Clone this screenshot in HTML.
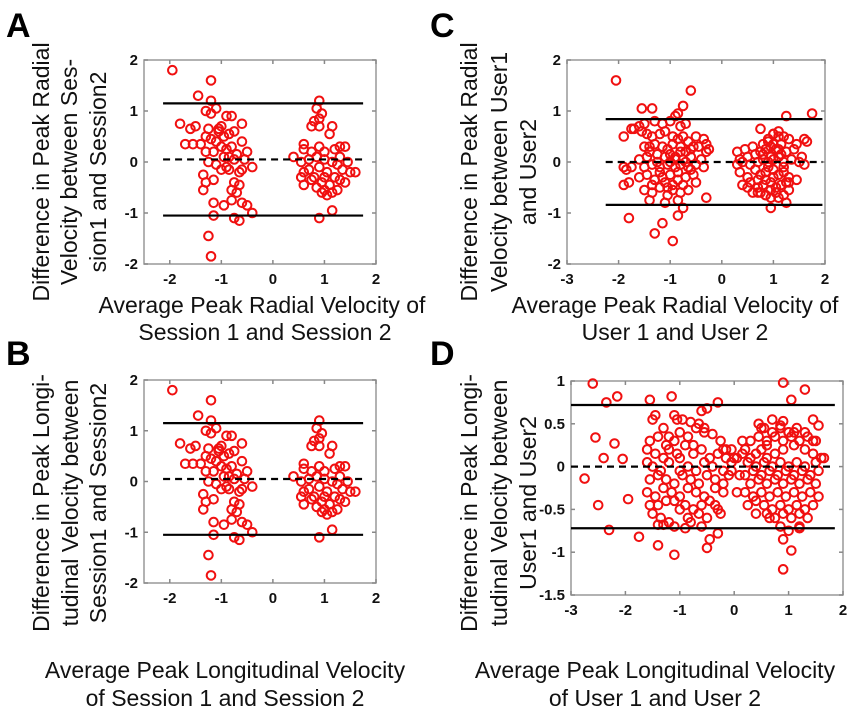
<!DOCTYPE html>
<html><head><meta charset="utf-8">
<style>
html,body{margin:0;padding:0;background:#fff;}
svg{display:block;font-family:"Liberation Sans",Arial,sans-serif;}
.lab{font-size:23px;fill:#111;}
.big{font-size:34px;font-weight:bold;fill:#000;}
.tick{font-size:15px;font-weight:bold;fill:#111;}
</style></head>
<body>
<svg id="fig" width="864" height="720" viewBox="0 0 864 720">
<text class="big" x="6" y="37">A</text>
<text class="big" x="430" y="37">C</text>
<text class="big" x="6" y="365">B</text>
<text class="big" x="430" y="365">D</text>

<g>
<text class="lab" transform="translate(49,172) rotate(-90)" text-anchor="middle">Difference in Peak Radial</text>
<text class="lab" transform="translate(77,172) rotate(-90)" text-anchor="middle">Velocity between Ses-</text>
<text class="lab" transform="translate(106,172) rotate(-90)" text-anchor="middle">sion1 and Session2</text>
</g>
<g>
<text class="lab" x="262" y="313" text-anchor="middle">Average Peak Radial Velocity of</text>
<text class="lab" x="265" y="340" text-anchor="middle">Session 1 and Session 2</text>
</g>
<g>
<text class="lab" transform="translate(477,172) rotate(-90)" text-anchor="middle">Difference in Peak Radial</text>
<text class="lab" transform="translate(507,172) rotate(-90)" text-anchor="middle">Velocity between User1</text>
<text class="lab" transform="translate(536,172) rotate(-90)" text-anchor="middle">and User2</text>
</g>
<g>
<text class="lab" x="675" y="313" text-anchor="middle">Average Peak Radial Velocity of</text>
<text class="lab" x="675" y="340" text-anchor="middle">User 1 and User 2</text>
</g>
<g>
<text class="lab" transform="translate(49,503) rotate(-90)" text-anchor="middle">Difference in Peak Longi-</text>
<text class="lab" transform="translate(78,503) rotate(-90)" text-anchor="middle">tudinal Velocity between</text>
<text class="lab" transform="translate(106,503) rotate(-90)" text-anchor="middle">Session1 and Session2</text>
</g>
<g>
<text class="lab" x="225" y="678" text-anchor="middle">Average Peak Longitudinal Velocity</text>
<text class="lab" x="225" y="706" text-anchor="middle">of Session 1 and Session 2</text>
</g>
<g>
<text class="lab" transform="translate(477,503) rotate(-90)" text-anchor="middle">Difference in Peak Longi-</text>
<text class="lab" transform="translate(507,503) rotate(-90)" text-anchor="middle">tudinal Velocity between</text>
<text class="lab" transform="translate(536,503) rotate(-90)" text-anchor="middle">User1 and User2</text>
</g>
<g>
<text class="lab" x="655" y="678" text-anchor="middle">Average Peak Longitudinal Velocity</text>
<text class="lab" x="655" y="706" text-anchor="middle">of User 1 and User 2</text>
</g>
</svg>
<script>
// Panel A / B data (session comparisons)
const sessX = [-1.95,-1.2,-1.45,-1.2,-1.3,-1.1,-1.2,-0.9,-0.8,-1.8,-1.6,-1.5,-1.0,-1.05,-0.75,-0.6,-1.7,-1.55,-1.4,-1.3,-1.2,-1.1,-1.0,-0.9,-0.8,-0.6,-0.5,-1.15,-1.3,-0.95,-0.7,-1.25,-1.1,-0.9,-0.6,-0.4,-1.35,-1.3,-1.15,-1.35,-0.85,-0.65,-0.75,-0.65,-0.8,-0.7,-0.8,-0.6,-0.5,-1.15,-0.95,-0.4,-1.15,-0.75,-0.65,-1.25,-1.2,-1.05,-0.95,-0.85,-1.25,-0.75,-0.55,-1.0,-0.85,
0.9,0.85,0.95,0.9,0.8,0.75,0.9,1.15,1.1,0.4,0.6,0.6,0.75,0.9,1.0,1.2,1.3,1.4,0.55,0.7,0.85,1.0,1.15,1.3,1.45,1.5,1.6,0.55,0.6,0.7,0.8,0.9,0.95,1.05,1.1,1.2,1.35,1.3,0.85,1.0,1.05,1.15,1.25,0.95,0.6,1.4,1.25,1.15,0.9,0.75,1.0];
const sessY = [1.8,1.6,1.3,1.2,1.0,1.05,0.95,0.9,0.9,0.75,0.65,0.7,0.7,0.6,0.6,0.75,0.35,0.35,0.35,0.5,0.45,0.4,0.3,0.25,0.3,0.4,0.2,0.2,0.2,0.1,0.15,0.0,-0.05,-0.1,-0.15,-0.1,-0.25,-0.4,-0.35,-0.55,-0.15,-0.2,-0.4,-0.45,-0.55,-0.6,-0.75,-0.8,-0.85,-0.8,-0.85,-1.0,-1.05,-1.1,-1.15,-1.45,-1.85,0.65,0.5,0.55,0.65,0.05,0.05,-0.15,0.1,
1.2,1.05,0.95,0.85,0.8,0.7,0.7,0.7,0.55,0.1,0.25,0.35,0.2,0.3,0.2,0.25,0.3,0.3,0.0,0.05,0.1,0.05,0.0,0.1,0.0,-0.2,-0.2,-0.3,-0.45,-0.15,-0.3,-0.1,-0.4,-0.2,-0.45,-0.3,-0.15,-0.35,-0.5,-0.55,-0.65,-0.6,-0.55,-0.6,-0.2,-0.4,-0.05,-0.95,-1.1,-0.35,-0.3];
const sessLimits = [1.15, 0.05, -1.05];

// Panel C data (radial, users)
const radX = [-2.05,-0.6,-1.55,-1.35,-0.75,-0.85,-0.9,-1.75,-1.9,-1.6,-1.5,-1.3,-1.15,-1.0,-0.8,-0.7,-1.9,-1.7,-1.55,-1.45,-1.35,-1.2,-1.1,-0.95,-0.85,-0.75,-0.65,-0.5,-0.35,-0.3,-0.25,-1.5,-1.4,-1.3,-1.15,-1.05,-0.95,-0.8,-0.7,-0.55,-0.45,-1.85,-1.75,-1.6,-1.45,-1.25,-1.1,-1.0,-0.9,-0.75,-0.6,-0.4,-0.3,-1.9,-1.8,-1.5,-1.35,-1.2,-1.05,-0.9,-0.8,-0.65,-0.5,-0.35,-1.6,-1.45,-1.3,-1.15,-1.0,-0.85,-0.7,-0.55,-1.5,-1.35,-1.2,-1.05,-0.95,-0.8,-0.65,-0.3,-1.8,-1.1,-0.85,-1.3,-1.35,-0.85,-1.15,-0.75,-0.95,-1.25,-0.6,-1.4,-1.0,-0.7,-1.1,-0.9,-0.5,-1.2,-0.8,-0.6,-1.4,-0.95,-0.75,-1.05,-0.85,
1.25,1.75,0.75,1.6,1.65,0.3,0.45,0.6,0.8,0.9,1.0,1.1,1.2,1.3,1.45,0.35,0.5,0.65,0.75,0.85,0.95,1.05,1.15,1.25,1.4,1.55,0.3,0.4,0.55,0.7,0.8,0.9,1.0,1.1,1.2,1.35,1.5,0.35,0.5,0.65,0.75,0.85,1.0,1.1,1.2,1.3,1.6,0.4,0.55,0.7,0.8,0.95,1.05,1.15,1.25,1.45,0.5,0.6,0.75,0.85,0.95,1.05,1.2,1.3,0.7,0.85,0.95,1.1,1.25,0.95,1.3,0.8,0.9,1.0,1.1,1.15,0.9,1.0,0.7,1.05,0.85,1.2,0.95,1.0,1.1];
const radY = [1.6,1.4,1.05,1.05,1.1,0.95,0.9,0.65,0.5,0.7,0.75,0.8,0.75,0.8,0.7,0.75,-0.1,0.65,0.6,0.55,0.5,0.55,0.6,0.5,0.45,0.5,0.4,0.5,0.45,0.35,0.25,0.3,0.3,0.35,0.3,0.25,0.35,0.3,0.2,0.3,0.3,-0.15,-0.1,0.05,0.1,0.15,0.1,0.15,0.1,0.05,0.1,0.05,0.2,-0.45,-0.4,-0.1,-0.05,-0.1,-0.05,-0.1,-0.05,-0.1,-0.05,-0.1,-0.3,-0.25,-0.35,-0.3,-0.25,-0.35,-0.3,-0.25,-0.55,-0.6,-0.5,-0.65,-0.55,-0.6,-0.55,-0.7,-1.1,-0.8,-0.75,-1.4,-0.45,-1.05,-1.2,-0.9,-1.55,0.0,-0.15,0.2,0.0,0.0,-0.4,0.05,-0.4,-0.2,0.2,0.25,-0.75,-0.45,-0.45,-0.5,-0.2,
0.9,0.95,0.65,0.45,0.4,0.2,0.25,0.3,0.35,0.45,0.55,0.6,0.5,0.45,0.35,0.05,0.1,0.15,0.2,0.25,0.3,0.25,0.35,0.2,0.25,0.1,-0.05,0.0,-0.05,0.0,0.05,0.0,0.05,0.1,0.0,0.05,0.0,-0.2,-0.3,-0.15,-0.25,-0.2,-0.3,-0.25,-0.2,-0.3,-0.05,-0.45,-0.4,-0.5,-0.45,-0.4,-0.5,-0.45,-0.4,-0.35,-0.5,-0.6,-0.6,-0.65,-0.7,-0.6,-0.65,-0.55,-0.6,-0.65,-0.55,-0.7,-0.8,-0.9,-0.4,0.15,0.4,0.55,0.5,0.15,-0.1,-0.15,-0.35,-0.6,-0.35,-0.1,0.1,0.35,0.25];
const radLimits = [0.84, 0.0, -0.84];

// Panel D data (longitudinal, users)
const lonX = [-2.6,-2.35,-2.15,-2.55,-2.4,-2.2,-2.75,-2.5,-2.3,-1.95,-1.75,-2.05,-1.55,-1.15,-1.5,-1.3,-1.1,-0.95,-0.8,-0.6,-0.5,-0.3,-1.55,-1.4,-1.25,-1.1,-1.0,-0.85,-0.7,-0.55,-0.4,-0.25,-0.15,-1.6,-1.45,-1.3,-1.2,-1.05,-0.9,-0.75,-0.6,-0.45,-0.3,-0.15,-0.05,-1.6,-1.5,-1.35,-1.2,-1.0,-0.85,-0.7,-0.55,-0.4,-0.2,-0.05,-1.55,-1.4,-1.25,-1.1,-0.95,-0.8,-0.65,-0.5,-0.35,-0.2,-0.1,-1.6,-1.45,-1.3,-1.15,-1.0,-0.85,-0.7,-0.55,-0.35,-0.2,-1.55,-1.4,-1.25,-1.1,-0.9,-0.75,-0.6,-0.45,-0.3,-1.5,-1.35,-1.2,-1.0,-0.85,-0.65,-0.5,-0.25,-1.4,-1.1,-0.9,-0.6,-0.8,-1.4,-1.3,-0.5,-0.45,-1.45,-1.05,-1.1,-0.3,-0.55,-0.2,-0.75,-0.65,-1.0,-1.2,-0.35,
0.0,0.15,0.2,0.3,0.4,0.5,0.6,0.75,0.9,1.1,1.3,1.45,1.6,0.9,1.05,1.3,0.9,1.0,0.85,1.45,1.55,0.25,0.4,0.55,0.7,0.85,1.0,1.15,1.3,1.5,0.2,0.35,0.5,0.65,0.8,0.95,1.1,1.25,1.4,1.55,0.3,0.45,0.6,0.75,0.9,1.05,1.2,1.35,1.5,1.65,0.05,0.2,0.35,0.5,0.65,0.8,0.95,1.1,1.25,1.4,1.55,0.3,0.45,0.6,0.75,0.9,1.05,1.2,1.35,1.5,0.25,0.4,0.55,0.7,0.85,1.0,1.15,1.3,1.45,0.4,0.6,0.75,0.9,1.05,1.2,1.35,0.5,0.7,0.85,1.0,1.15,1.3,0.65,0.9,1.05,1.2,0.9,1.0,0.85,1.2,0.45,0.55,0.7,1.1,0.15,0.1,1.45,-0.05,0.05,0.6];
const lonY = [0.97,0.75,0.82,0.34,0.1,0.27,-0.14,-0.45,-0.74,-0.38,-0.82,0.09,0.78,0.82,0.55,0.45,0.6,0.55,0.52,0.65,0.68,0.75,0.3,0.35,0.25,0.3,0.4,0.35,0.45,0.4,0.38,0.3,0.2,0.2,0.15,0.1,0.2,0.15,0.25,0.15,0.2,0.1,0.15,0.1,0.2,0.05,0.0,-0.05,0.05,-0.05,0.0,-0.05,0.05,0.0,-0.05,0.05,-0.15,-0.1,-0.15,-0.2,-0.1,-0.15,-0.2,-0.1,-0.15,-0.2,-0.1,-0.3,-0.35,-0.25,-0.3,-0.35,-0.25,-0.3,-0.35,-0.25,-0.3,-0.45,-0.45,-0.4,-0.4,-0.45,-0.5,-0.45,-0.4,-0.5,-0.55,-0.6,-0.65,-0.5,-0.6,-0.55,-0.6,-0.55,-0.68,-0.7,-0.72,-0.7,-0.65,-0.92,-0.68,-0.95,-0.85,0.6,0.55,-1.03,-0.78,0.45,0.2,0.25,0.5,0.1,0.35,-0.45,
0.1,0.15,0.2,0.1,0.15,0.2,0.1,0.15,0.2,0.25,0.2,0.15,0.1,0.98,0.78,0.9,0.53,0.4,0.48,0.55,0.48,0.05,0.0,0.05,0.0,0.05,0.0,0.05,0.0,0.05,-0.1,-0.05,-0.1,-0.05,-0.1,-0.05,-0.1,-0.05,-0.1,-0.05,-0.2,-0.15,-0.2,-0.15,-0.2,-0.15,-0.2,-0.15,-0.2,0.1,-0.3,-0.3,-0.35,-0.3,-0.35,-0.3,-0.35,-0.3,-0.35,-0.3,-0.35,0.3,0.35,0.3,0.35,0.3,0.35,0.3,0.35,0.3,-0.45,-0.4,-0.45,-0.5,-0.45,-0.5,-0.45,-0.5,-0.45,-0.55,-0.55,-0.6,-0.55,-0.6,-0.55,-0.6,0.45,0.4,0.45,0.4,0.45,0.4,-0.6,-0.85,-0.98,-0.7,-1.2,-0.75,-0.7,-0.72,0.5,0.45,0.55,0.4,0.3,-0.1,0.3,-0.05,0.1,0.25];
const lonLimits = [0.72, 0.0, -0.72];

const ns = 'http://www.w3.org/2000/svg';
const svg = document.getElementById('fig');
function mk(tag, attrs, parent){
  const e = document.createElementNS(ns, tag);
  for (const k in attrs) e.setAttribute(k, attrs[k]);
  parent.appendChild(e);
  return e;
}
function panel(id, box, xlim, ylim, xticks, yticks, xs, ys, limits, lineX){
  const g = mk('g', {}, svg);
  
  
  const sx = v => box.x0 + (v - xlim[0]) / (xlim[1] - xlim[0]) * (box.x1 - box.x0);
  const sy = v => box.y1 - (v - ylim[0]) / (ylim[1] - ylim[0]) * (box.y1 - box.y0);
  const frame = mk('rect', {x:box.x0, y:box.y0, width:box.x1-box.x0, height:box.y1-box.y0, fill:'#fff', stroke:'#999', 'stroke-width':1.5}, g);
  
  
  xticks.forEach(t => {
    const X = sx(t);
    mk('line', {x1:X, x2:X, y1:box.y1, y2:box.y1-4, stroke:'#888', 'stroke-width':1.5}, g);
    mk('line', {x1:X, x2:X, y1:box.y0, y2:box.y0+4, stroke:'#888', 'stroke-width':1.5}, g);
    const tx = mk('text', {x:X, y:box.y1+20, 'text-anchor':'middle', class:'tick'}, g);
    tx.textContent = String(t);
    
    
  });
  yticks.forEach(t => {
    const Y = sy(t);
    mk('line', {x1:box.x0, x2:box.x0+4, y1:Y, y2:Y, stroke:'#888', 'stroke-width':1.5}, g);
    mk('line', {x1:box.x1, x2:box.x1-4, y1:Y, y2:Y, stroke:'#888', 'stroke-width':1.5}, g);
    const ty = mk('text', {x:box.x0-6, y:Y+5, 'text-anchor':'end', class:'tick'}, g);
    ty.textContent = String(t);
    
    
  });
  for (let i = 0; i < xs.length; i++){
    const c = mk('circle', {cx:sx(xs[i]), cy:sy(ys[i]), r:4.3, fill:'none', stroke:'#f01010', 'stroke-width':2}, g);
    
    
  }
  limits.forEach((v, i) => {
    const l = mk('line', {x1:sx(lineX[0]), x2:sx(lineX[1]), y1:sy(v), y2:sy(v), stroke:'#000', 'stroke-width':2.2}, g);
    if (i === 1) l.setAttribute('stroke-dasharray', '7,5');
    
    
  });
}
panel('panel-a', {x0:144, x1:376, y0:60, y1:264}, [-2.5, 2], [-2, 2], [-2,-1,0,1,2], [2,1,0,-1,-2], sessX, sessY, sessLimits, [-2.13, 1.75]);
panel('panel-b', {x0:144, x1:376, y0:380, y1:583}, [-2.5, 2], [-2, 2], [-2,-1,0,1,2], [2,1,0,-1,-2], sessX, sessY, sessLimits, [-2.13, 1.75]);
panel('panel-c', {x0:567, x1:825, y0:60, y1:264}, [-3, 2], [-2, 2], [-3,-2,-1,0,1,2], [2,1,0,-1,-2], radX, radY, radLimits, [-2.25, 1.95]);
panel('panel-d', {x0:571, x1:843, y0:381, y1:595}, [-3, 2], [-1.5, 1], [-3,-2,-1,0,1,2], [1,0.5,0,-0.5,-1,-1.5], lonX, lonY, lonLimits, [-3, 1.85]);
</script>
</body></html>
